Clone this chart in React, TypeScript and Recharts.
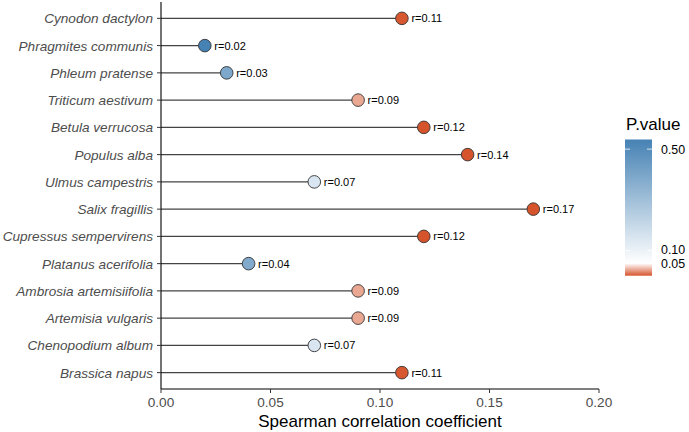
import React from 'react';
import { ScatterChart, Scatter, XAxis, YAxis, ReferenceLine } from 'recharts';

const species = [
  'Cynodon dactylon',
  'Phragmites communis',
  'Phleum pratense',
  'Triticum aestivum',
  'Betula verrucosa',
  'Populus alba',
  'Ulmus campestris',
  'Salix fragillis',
  'Cupressus sempervirens',
  'Platanus acerifolia',
  'Ambrosia artemisiifolia',
  'Artemisia vulgaris',
  'Chenopodium album',
  'Brassica napus',
];
const rValues = [0.11, 0.02, 0.03, 0.09, 0.12, 0.14, 0.07, 0.17, 0.12, 0.04, 0.09, 0.09, 0.07, 0.11];
const pValues = [0.002, 0.538, 0.39, 0.025, 0.001, 0.001, 0.15, 0.001, 0.001, 0.38, 0.025, 0.025, 0.15, 0.002];
const xTicks = [0, 0.05, 0.1, 0.15, 0.2];
const legendTicks = [0.05, 0.1, 0.5];
const legendTitle = 'P.value';
const xTitle = 'Spearman correlation coefficient';

const FONT = '"Liberation Sans", Arial, sans-serif';
const RED = [214, 84, 44];
const WHITE = [255, 255, 255];
const BLUE = [70, 130, 180];
const MID_P = 0.05;

const pMin = Math.min(...pValues);
const pMax = Math.max(...pValues);

const data = species.map((name, i) => ({ idx: i + 1, name, r: rValues[i], p: pValues[i] }));

const mix = (a: number[], b: number[], t: number) =>
  `rgb(${a.map((v, k) => Math.round(v + (b[k] - v) * t)).join(',')})`;

const colorAt = (p: number) => {
  if (p <= MID_P) return mix(RED, WHITE, (p - pMin) / (MID_P - pMin));
  return mix(WHITE, BLUE, (p - MID_P) / (pMax - MID_P));
};

const Dot = (props: any) => {
  const { cx, cy, payload } = props;
  return (
    <g>
      <circle cx={cx} cy={cy} r={6.3} fill={colorAt(payload.p)} stroke="#333" strokeWidth={0.9} />
      <text x={cx + 9.5} y={cy} dy="0.36em" fontSize={11} fill="#000" fontFamily={FONT}>
        {`r=${payload.r.toFixed(2)}`}
      </text>
    </g>
  );
};

const YTick = (props: any) => {
  const { x, y, payload } = props;
  return (
    <text x={x} y={y} dy="0.36em" textAnchor="end" fontStyle="italic" fontSize={13.6} fill="#4D4D4D" fontFamily={FONT}>
      {species[payload.value - 1]}
    </text>
  );
};

const BAR_X = 625;
const BAR_W = 27;
const BAR_TOP = 139.5;
const BAR_BOTTOM = 275.7;
const barY = (p: number) => BAR_BOTTOM - ((p - pMin) / (pMax - pMin)) * (BAR_BOTTOM - BAR_TOP);

const ColorBar = () => {
  const midOffset = (MID_P - pMin) / (pMax - pMin);
  return (
    <svg width={689} height={432} style={{ position: 'absolute', left: 0, top: 0, pointerEvents: 'none' }}>
      <defs>
        <linearGradient id="pgrad" x1="0" y1="1" x2="0" y2="0">
          <stop offset="0" stopColor={mix(RED, RED, 0)} />
          <stop offset={midOffset} stopColor={mix(WHITE, WHITE, 0)} />
          <stop offset="1" stopColor={mix(BLUE, BLUE, 0)} />
        </linearGradient>
      </defs>
      <text x={626} y={130} fontSize={17} fill="#000" fontFamily={FONT}>{legendTitle}</text>
      <rect x={BAR_X} y={BAR_TOP} width={BAR_W} height={BAR_BOTTOM - BAR_TOP} fill="url(#pgrad)" />
      {legendTicks.map((t) => (
        <g key={t}>
          <line x1={BAR_X} x2={BAR_X + 5} y1={barY(t)} y2={barY(t)} stroke="#fff" strokeWidth={0.8} />
          <line x1={BAR_X + BAR_W - 5} x2={BAR_X + BAR_W} y1={barY(t)} y2={barY(t)} stroke="#fff" strokeWidth={0.8} />
          <text x={661} y={barY(t) + (t === 0.05 ? 0.6 : t === 0.1 ? -0.6 : 0)} dy="0.36em" fontSize={12.4} fill="#000" fontFamily={FONT}>
            {t.toFixed(2)}
          </text>
        </g>
      ))}
    </svg>
  );
};

export default function App() {
  return (
    <div style={{ position: 'absolute', left: 0, top: 0, width: 689, height: 432, background: '#fff', fontFamily: FONT }}>
      <ScatterChart width={689} height={432} margin={{ top: 2, right: 90, bottom: 0, left: 0 }}>
        <XAxis
          type="number"
          dataKey="r"
          domain={[0, 0.2]}
          ticks={xTicks}
          allowDataOverflow
          tickFormatter={(v: number) => v.toFixed(2)}
          height={43}
          tickSize={4}
          tickMargin={4}
          axisLine={{ stroke: '#000', strokeWidth: 1.1 }}
          tickLine={{ stroke: '#333', strokeWidth: 1 }}
          tick={{ fill: '#4D4D4D', fontSize: 13.6, fontFamily: FONT }}
          label={{ value: xTitle, position: 'insideBottom', offset: 5, fill: '#000', fontSize: 17, fontFamily: FONT }}
        />
        <YAxis
          type="number"
          dataKey="idx"
          domain={[0.4, 14.6]}
          ticks={data.map((d) => d.idx)}
          interval={0}
          reversed
          allowDataOverflow
          width={161}
          tickSize={4}
          tickMargin={4}
          axisLine={{ stroke: '#000', strokeWidth: 1.1 }}
          tickLine={{ stroke: '#333', strokeWidth: 1 }}
          tick={<YTick />}
        />
        {data.map((d) => (
          <ReferenceLine
            key={d.name}
            segment={[{ x: 0, y: d.idx }, { x: d.r, y: d.idx }]}
            stroke="#444"
            strokeWidth={1.3}
            ifOverflow="visible"
          />
        ))}
        <Scatter data={data} shape={<Dot />} isAnimationActive={false} />
      </ScatterChart>
      <ColorBar />
    </div>
  );
}
